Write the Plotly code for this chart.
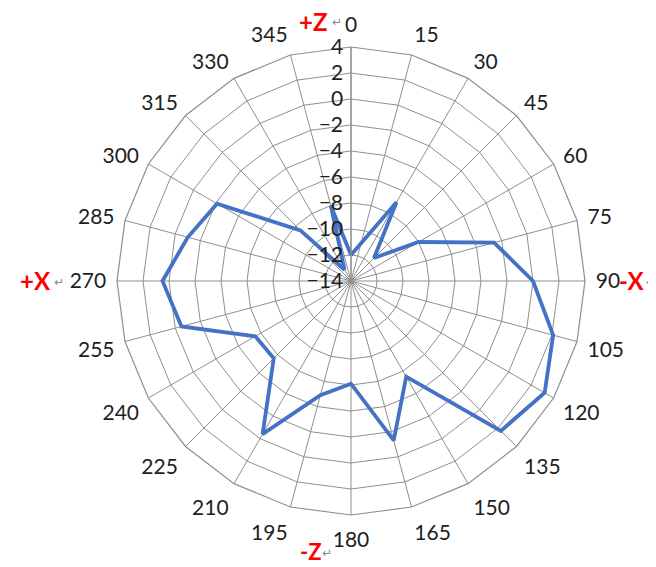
import plotly.graph_objects as go

angles = [str(a) for a in range(0, 360, 15)]
values = [-12, -11, -7, -11.5, -8, -2.6, 0, 2.1, 3.2, 2.3, -5.5, -1.3,
          -6.1, -4.9, -0.4, -5.6, -5.5, -0.5, 0.5, -1.0, -2.1, -8.5, -13, -8]
radial_ticks = list(range(-14, 5, 2))

theta = angles + [angles[0]]
r = values + [values[0]]

# page has an 8px body margin: draw in a slightly smaller figure
OFF = 8
W, H = 656 - OFF, 567 - OFF
cx, cy, R = 351 - OFF, 281 - OFF, 234

fig = go.Figure()
fig.add_trace(go.Scatterpolar(
    r=r, theta=theta, mode="lines",
    line=dict(color="#4472C4", width=3.8),
    showlegend=False, hoverinfo="skip",
))

grid = "#8f8f8f"
font = dict(family="Lato, Liberation Sans, sans-serif", size=21, color="#1e1e1e")

fig.update_layout(
    width=W, height=H,
    margin=dict(l=0, r=0, t=0, b=0),
    paper_bgcolor="white",
    font=font,
    polar=dict(
        domain=dict(x=[(cx - R) / W, (cx + R) / W],
                    y=[(H - (cy + R)) / H, (H - (cy - R)) / H]),
        bgcolor="white",
        gridshape="linear",
        angularaxis=dict(
            type="category", categoryorder="array", categoryarray=angles,
            direction="clockwise", rotation=90,
            showgrid=True, gridcolor=grid, gridwidth=1.2,
            showline=True, linecolor=grid, linewidth=1.2,
            ticks="outside", ticklen=6, tickcolor="rgba(0,0,0,0)",
            tickfont=font,
        ),
        radialaxis=dict(
            range=[-14, 4], tickvals=radial_ticks,
            angle=90, tickangle=90,
            showgrid=True, gridcolor=grid, gridwidth=1.2,
            showline=True, linecolor=grid, linewidth=1.2,
            ticks="", ticksuffix="\u00a0\u00a0\u00a0\u00a0",
            tickfont=font, side="counterclockwise",
        ),
    ),
)

red = dict(family="Lato, Liberation Sans, sans-serif", size=24, color="#ff0000")
red_small = dict(family="Lato, Liberation Sans, sans-serif", size=22, color="#ff0000")
arrow = dict(family="DejaVu Sans, sans-serif", size=12, color="#888")
labels = [("<b>+Z</b>", 313, 21, red), ("<b>-X</b>", 631, 280, red),
          ("<b>+X</b>", 35, 280, red), ("<b>-Z</b>", 310, 551, red_small)]
for txt, x, y, f in labels:
    fig.add_annotation(text=txt, x=(x - OFF) / W, y=1 - (y - OFF) / H, xref="paper", yref="paper",
                       showarrow=False, font=f, xanchor="center", yanchor="middle")
for x, y in [(337, 22), (651, 282), (59, 282), (327, 553)]:
    fig.add_annotation(text="↵", x=(x - OFF) / W, y=1 - (y - OFF) / H, xref="paper", yref="paper",
                       showarrow=False, font=arrow, xanchor="center", yanchor="middle")

fig.write_html("out.html")
